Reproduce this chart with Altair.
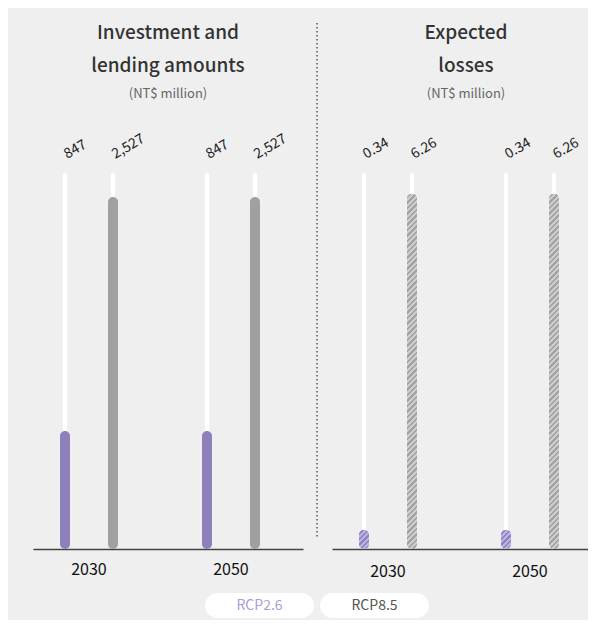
import altair as alt
import pandas as pd

# ---- data ----
years = ["2030", "2030", "2050", "2050"]
scenarios = ["RCP2.6", "RCP8.5", "RCP2.6", "RCP8.5"]
investment = [847, 2527, 847, 2527]
losses = [0.34, 6.26, 0.34, 6.26]
investment_track_max = 2700
losses_track_max = 6.62
legend_labels = ["RCP2.6", "RCP8.5"]
titles_left = ["Investment and", "lending amounts"]
titles_right = ["Expected", "losses"]
unit_label = "(NT$ million)"

# ---- style ----
FONT = "Noto Sans CJK TC"
PURPLE = "#8e80bb"
GRAY = "#a0a0a0"
PLOT_H = 376
BAR_W = 10
LABEL_ANGLE = 330


def stripes(light, dark, w, h, period=5.5, duty=0.55):
    """Diagonal hatch as a hard-stop linear gradient for a w x h px bar."""
    a = w / h
    k = (1 + a) / (1 + a * a)
    p = period / (w + h)
    stops = []
    t = 0.0
    while t < 1.0:
        m = min(t + p * duty, 1.0)
        e = min(t + p, 1.0)
        stops += [alt.GradientStop(offset=round(t, 5), color=light),
                  alt.GradientStop(offset=round(m, 5), color=light),
                  alt.GradientStop(offset=round(m, 5), color=dark),
                  alt.GradientStop(offset=round(e, 5), color=dark)]
        t += p
    return alt.Gradient(gradient="linear", stops=stops, x1=0, y1=0,
                        x2=round(a * k, 5), y2=round(k, 5))


def panel(values, track_max, fmt, title_lines, width, po, align, hatched,
          title_offset, title_dx, label_pad, separator=False):
    df = pd.DataFrame({"year": years, "scenario": scenarios,
                       "value": values, "track": [track_max] * len(values)})
    x = alt.X("year:N", title=None,
              scale=alt.Scale(paddingInner=0.324, paddingOuter=po, align=align),
              axis=alt.Axis(labelAngle=0, ticks=False, domainColor="#444",
                            domainWidth=1.5, labelFontSize=16, labelFont=FONT,
                            labelColor="#111", labelPadding=label_pad, grid=False))
    xo = alt.XOffset("scenario:N", sort=legend_labels,
                     scale=alt.Scale(paddingInner=0, paddingOuter=0))
    ys = alt.Scale(domain=[0, track_max], nice=False, zero=True)
    base = alt.Chart(df).encode(x=x, xOffset=xo)

    track = base.mark_bar(width=5, cornerRadius=2.5, color="white").encode(
        y=alt.Y("track:Q", scale=ys, axis=None))
    layers = [track]
    if hatched:
        h_small = PLOT_H * values[0] / track_max
        h_big = PLOT_H * values[1] / track_max
        g_p = stripes("#bcb2e0", "#8f81c4", BAR_W, h_small)
        g_g = stripes("#cccccc", "#a2a2a2", BAR_W, h_big)
        layers.append(base.transform_filter(alt.datum.scenario == legend_labels[0])
                      .mark_bar(width=BAR_W, cornerRadius=5, fill=g_p)
                      .encode(y=alt.Y("value:Q", scale=ys, axis=None)))
        layers.append(base.transform_filter(alt.datum.scenario == legend_labels[1])
                      .mark_bar(width=BAR_W, cornerRadius=5, fill=g_g)
                      .encode(y=alt.Y("value:Q", scale=ys, axis=None)))
    else:
        layers.append(base.mark_bar(width=BAR_W, cornerRadius=5).encode(
            y=alt.Y("value:Q", scale=ys, axis=None),
            color=alt.Color("scenario:N", legend=None,
                            scale=alt.Scale(domain=legend_labels, range=[PURPLE, GRAY]))))
    layers.append(base.mark_text(angle=LABEL_ANGLE, align="left", baseline="middle",
                                 dx=9, dy=-15, fontSize=14, font=FONT,
                                 color="#222").encode(
        y=alt.Y("track:Q", scale=ys, axis=None),
        text=alt.Text("value:Q", format=fmt)))
    if separator:
        layers.append(alt.Chart(pd.DataFrame({"s": [0]})).mark_rule(
            color="#555", strokeWidth=1.5, strokeDash=[1.5, 2.5]).encode(
            x=alt.value(-15), y=alt.value(-150), y2=alt.value(365)))
    return alt.layer(*layers).properties(
        width=width, height=PLOT_H,
        title=alt.TitleParams(text=title_lines, subtitle=unit_label, font=FONT,
                              fontSize=19, fontWeight=500, color="#333",
                              lineHeight=33, subtitleFont=FONT, subtitleFontSize=13,
                              subtitleColor="#666", subtitlePadding=12,
                              frame="group", anchor="middle",
                              offset=title_offset, dx=title_dx))


left = panel(investment, investment_track_max, ",.0f", titles_left, 270,
             0.1127, 0.25, False, 31, 0, 12)
right = panel(losses, losses_track_max, ".2f", titles_right, 256,
              0.0634, 0.444, True, -79, 6, 14, separator=True)

leg_df = pd.DataFrame({"label": legend_labels})
lx = alt.X("label:N", axis=None, sort=legend_labels,
           scale=alt.Scale(paddingInner=0.0522, paddingOuter=1.0, align=0.748))
pill = alt.Chart(leg_df).mark_bar(color="white", cornerRadius=12.5).encode(x=lx)
ltxt = alt.Chart(leg_df).mark_text(fontSize=14, font=FONT).encode(
    x=lx, text="label:N",
    color=alt.condition(alt.datum.label == legend_labels[0],
                        alt.value("#a99ed6"), alt.value("#555555")))
legend = alt.layer(pill, ltxt).properties(width=454, height=25)

top = alt.hconcat(left, right, spacing=13).resolve_scale(
    x="independent", y="independent", xOffset="independent", color="independent")

chart = alt.vconcat(top, legend, spacing=14).properties(
    padding={"left": 25, "top": 14, "right": 0, "bottom": 2},
    background="#efefef",
).configure_view(stroke=None)

chart.save("out.html", embed_options={"renderer": "svg", "actions": False})
